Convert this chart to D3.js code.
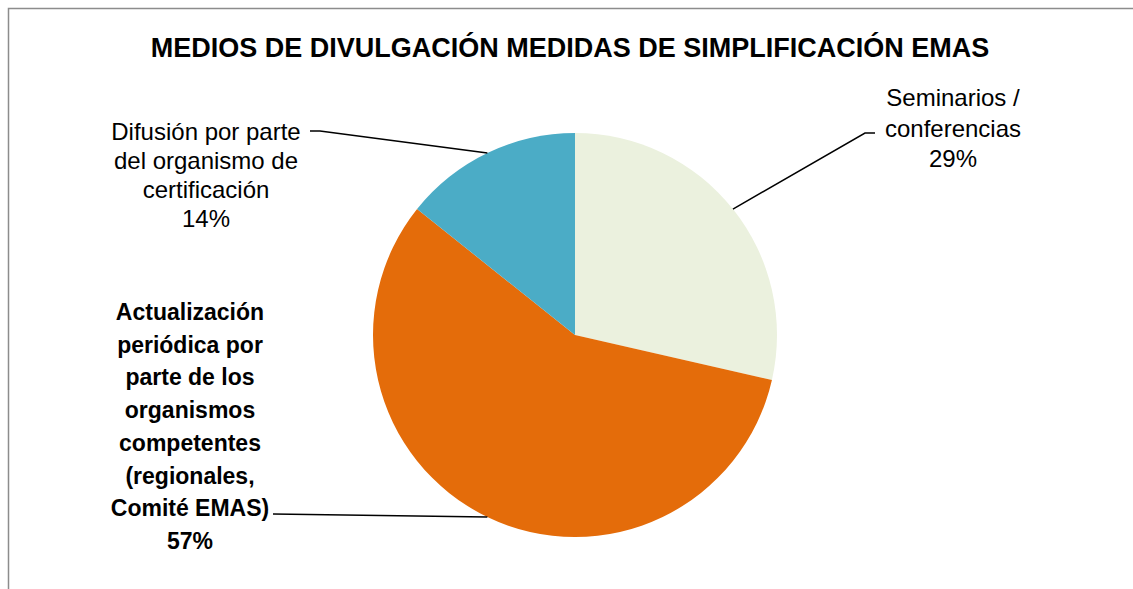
<!DOCTYPE html>
<html>
<head>
<meta charset="utf-8">
<script src="https://cdn.jsdelivr.net/npm/d3@7"></script>
<style>
  html, body { margin: 0; padding: 0; background: #fff; }
  svg { display: block; }
  text { font-family: "Liberation Sans", Arial, sans-serif; fill: #000; }
</style>
</head>
<body>
<div id="chart"></div>
<script>
// data
const categories = [
  "Seminarios / conferencias",
  "Actualización periódica por parte de los organismos competentes (regionales, Comité EMAS)",
  "Difusión por parte del organismo de certificación"
];
const values = [2, 4, 1]; // shares 29% / 57% / 14%
const labelLines = [
  ["Seminarios /", "conferencias"],
  ["Actualización", "periódica por", "parte de los", "organismos", "competentes", "(regionales,", "Comité EMAS)"],
  ["Difusión por parte", "del organismo de", "certificación"]
];
const colors = ["#EBF1DE", "#E46C0A", "#4BACC6"];
const title = "MEDIOS DE DIVULGACIÓN MEDIDAS DE SIMPLIFICACIÓN EMAS";

const width = 1133;
const height = 589;
const cx = 575, cy = 335, radius = 202;

// label placement (centre x, first line centre y, line step, bold, elbow point)
const labelPos = [
  { x: 953, y: 97, step: 30.5, bold: false, size: 24, elbow: [865, 133], end: 875 },
  { x: 190, y: 312, step: 32.7, bold: true, size: 23, elbow: [273, 514], end: 273 },
  { x: 206, y: 131, step: 29, bold: false, size: 24, elbow: [320, 131], end: 310 }
];

const total = d3.sum(values);
const pct = d3.format(".0%");

const svg = d3.select("#chart")
  .append("svg")
  .attr("width", width)
  .attr("height", height);

// frame (top and left edges visible)
svg.append("path")
  .attr("d", `M8.5,${height} V8.5 H${width}`)
  .attr("fill", "none")
  .attr("stroke", "#8c8c8c")
  .attr("stroke-width", 1.5);

svg.append("text")
  .attr("x", 570)
  .attr("y", 57)
  .attr("text-anchor", "middle")
  .attr("font-size", 27)
  .attr("font-weight", "bold")
  .text(title);

const pie = d3.pie().sort(null).value(d => d);
const arcs = pie(values);
const arc = d3.arc().innerRadius(0).outerRadius(radius);

const g = svg.append("g").attr("transform", `translate(${cx},${cy})`);

g.selectAll("path")
  .data(arcs)
  .enter()
  .append("path")
  .attr("d", arc)
  .attr("fill", (d, i) => colors[i]);

// leader lines from the arc midpoint on the rim
const rimPoint = d => {
  const a = (d.startAngle + d.endAngle) / 2;
  return [cx + radius * Math.sin(a), cy - radius * Math.cos(a)];
};

svg.append("g")
  .selectAll("polyline")
  .data(arcs)
  .enter()
  .append("polyline")
  .attr("points", (d, i) => {
    const p = rimPoint(d);
    const lp = labelPos[i];
    return [p, lp.elbow, [lp.end, lp.elbow[1]]].map(q => q.join(",")).join(" ");
  })
  .attr("fill", "none")
  .attr("stroke", "#000")
  .attr("stroke-width", 1.5);

const labels = svg.append("g")
  .selectAll("text")
  .data(arcs)
  .enter()
  .append("text")
  .attr("text-anchor", "middle")
  .attr("dominant-baseline", "central")
  .attr("font-size", (d, i) => labelPos[i].size)
  .attr("font-weight", (d, i) => labelPos[i].bold ? "bold" : "normal");

labels.each(function(d, i) {
  const lp = labelPos[i];
  const lines = labelLines[i].concat([pct(d.data / total)]);
  d3.select(this)
    .selectAll("tspan")
    .data(lines)
    .enter()
    .append("tspan")
    .attr("x", lp.x)
    .attr("y", (t, j) => lp.y + j * lp.step)
    .text(t => t);
});
</script>
</body>
</html>
